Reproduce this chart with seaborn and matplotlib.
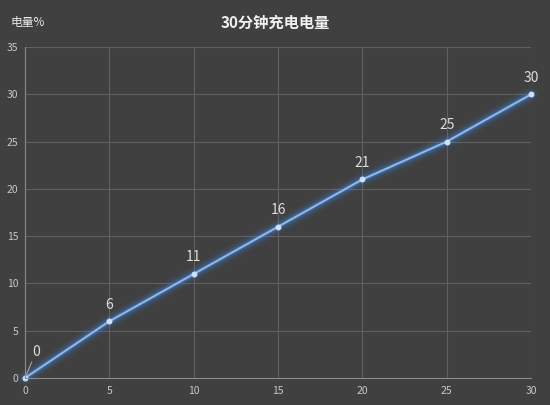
import matplotlib.pyplot as plt
import seaborn as sns
import pandas as pd

minutes = [0, 5, 10, 15, 20, 25, 30]
charge = [0, 6, 11, 16, 21, 25, 30]
x_ticks = [0, 5, 10, 15, 20, 25, 30]
y_ticks = [0, 5, 10, 15, 20, 25, 30, 35]

df = pd.DataFrame({"minutes": minutes, "charge": charge})

sns.set_style("dark")
plt.rcParams['font.family'] = ['Noto Sans CJK SC', 'DejaVu Sans']

bg = '#404040'
fig = plt.figure(figsize=(5.5, 4.05), dpi=100, facecolor=bg)
ax = fig.add_axes([0.0455, 0.0667, 0.92, 0.817])
ax.set_facecolor(bg)

# glow under the line
for lw, a in [(11, 0.06), (8, 0.09), (5.5, 0.14), (3.5, 0.22)]:
    sns.lineplot(data=df, x="minutes", y="charge", ax=ax, color='#3f8ff0',
                 linewidth=lw, alpha=a, solid_capstyle='round', clip_on=False)
sns.lineplot(data=df, x="minutes", y="charge", ax=ax, color='#8cb8ee',
             linewidth=1.5, marker='o', markersize=3.5, clip_on=False,
             markeredgecolor='#cfe2fa', markerfacecolor='#cfe2fa')

for x, y in zip(minutes, charge):
    if x == 0:
        ax.annotate(str(y), xy=(x, y), xytext=(8, 14), textcoords='offset points',
                    ha='center', va='bottom', color='#dcdcdc', fontsize=10,
                    arrowprops=dict(arrowstyle='-', color='#a0a0a0', lw=0.8,
                                    shrinkA=0, shrinkB=2))
    else:
        ax.annotate(str(y), xy=(x, y), xytext=(0, 7), textcoords='offset points',
                    ha='center', va='bottom', color='#dcdcdc', fontsize=10)

ax.set_xlim(0, 30)
ax.set_ylim(0, 35)
ax.set_xticks(x_ticks)
ax.set_yticks(y_ticks)
ax.grid(True, color='#606060', linewidth=0.8)
ax.tick_params(colors='#c8c8c8', labelsize=7.5, length=0, pad=6)
ax.tick_params(axis='y', pad=5)
for s in ['top', 'right']:
    ax.spines[s].set_visible(False)
for s in ['left', 'bottom']:
    ax.spines[s].set_color('#8a8a8a')
    ax.spines[s].set_linewidth(0.8)
ax.set_xlabel('')
ax.set_ylabel('')

fig.text(0.5, 0.945, '30分钟充电电量', ha='center', va='center', color='#f0f0f0',
         fontsize=11, fontweight='bold')
fig.text(0.02, 0.945, '电量%', ha='left', va='center', color='#e8e8e8', fontsize=8.5)

fig.savefig('out.png', dpi=100, facecolor=bg)
